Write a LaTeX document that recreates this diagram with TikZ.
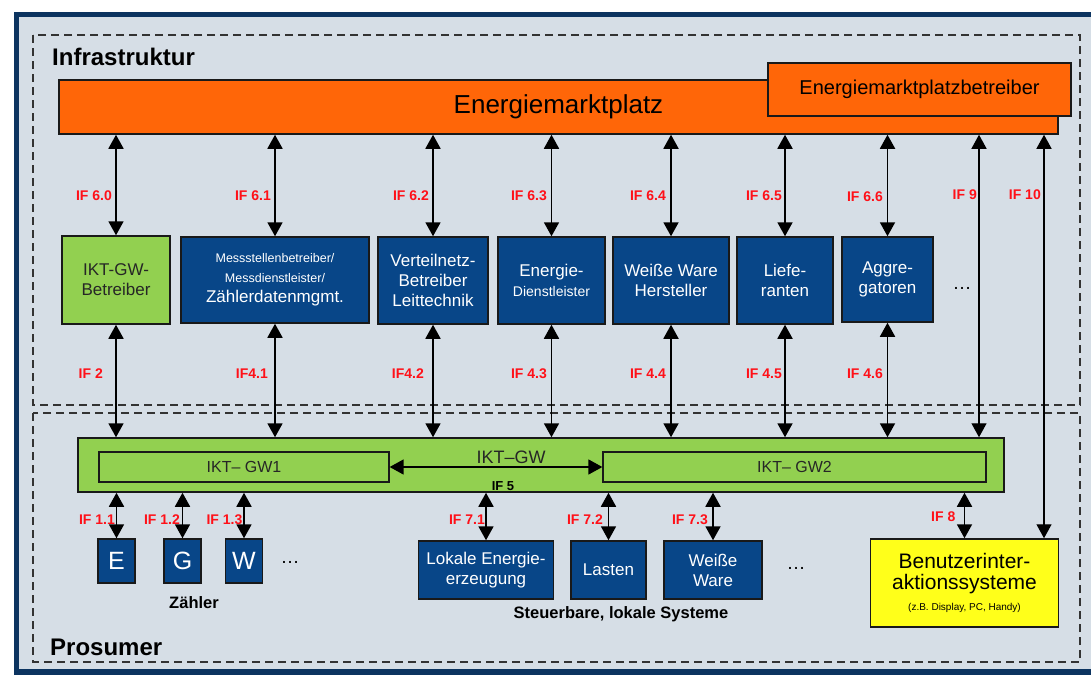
\documentclass[tikz,border=0pt]{standalone}
\usepackage{fontspec}
\setmainfont{Liberation Sans}
\usepackage{tikz}
\usetikzlibrary{arrows.meta}
\definecolor{rahmen}{RGB}{12,52,96}
\definecolor{grund}{RGB}{214,222,230}
\definecolor{marktorange}{RGB}{255,102,8}
\definecolor{gruen}{RGB}{146,208,80}
\definecolor{blau}{RGB}{8,70,136}
\definecolor{gelb}{RGB}{255,255,26}
\definecolor{ifrot}{RGB}{255,16,24}

\begin{document}
\begin{tikzpicture}[x=1pt,y=-1pt]
	 \tikzstyle{box}=[rectangle,draw=black!90,line width=1.5pt,inner sep=0pt,align=center]
	 \tikzstyle{dienst}=[box,fill=blau,text=white,font=\fontsize{17}{20}\selectfont]
	 \tikzstyle{gbox}=[box,fill=gruen,text=black!85]
	 \tikzstyle{zaehler}=[dienst,minimum width=37,minimum height=44,font=\fontsize{25}{28}\selectfont]
	 \tikzstyle{iflabel}=[anchor=east,inner sep=0pt,text=ifrot,font=\bfseries\fontsize{14}{16}\selectfont]
	 \tikzstyle{link}=[draw,line width=1.8pt,{Triangle[width=15pt,length=14pt]}-{Triangle[width=15pt,length=14pt]}]
	 \tikzstyle{longlink}=[link,line width=1.3pt]
	 \tikzstyle{area}=[draw=black!80,line width=1.8pt,dash pattern=on 8pt off 5pt]
	 \tikzstyle{titel}=[anchor=base west,inner sep=0pt,font=\bfseries\fontsize{24}{28}\selectfont]
	 \tikzstyle{dots}=[font=\fontsize{19}{20}\selectfont]
	 \useasboundingbox (0,0) rectangle (1091,675);
	 \clip (0,0) rectangle (1091,675);
	 \fill[white] (0,0) rectangle (1091,675);
	 \draw[rahmen,line width=5.5pt,fill=grund] (16.5,14.5) rectangle (1110,672);
	 \draw[area] (33,35) rectangle (1080,405);
	 \draw[area] (33,413) rectangle (1080,662);
	 \node[titel] (infra) at (52,65) {Infrastruktur};
	 \node[titel] (pros) at (50,655) {Prosumer};
	 \node[box,fill=marktorange,minimum width=999,minimum height=54,font=\fontsize{26}{30}\selectfont] (markt) at (558.5,107) {Energiemarktplatz};
	 \node[box,fill=marktorange,minimum width=303,minimum height=53,font=\fontsize{20}{24}\selectfont] (mpb) at (919.5,89.5) {Energiemarktplatzbetreiber};
	 \node[gbox,minimum width=108,minimum height=88,font=\fontsize{17}{20}\selectfont] (gwb) at (116,280) {IKT-GW-\\Betreiber};
	 \node[dienst,minimum width=188,minimum height=86] (msb) at (275,280) {{\fontsize{12.5}{15}\selectfont Messstellenbetreiber/}\\{\fontsize{12.5}{15}\selectfont Messdienstleister/}\\Zählerdatenmgmt.};
	 \node[dienst,minimum width=110,minimum height=87] (vnb) at (433,280.5) {Verteilnetz-\\Betreiber\\Leittechnik};
	 \node[dienst,minimum width=107,minimum height=87] (eds) at (551.5,280.5) {Energie-\\{\fontsize{14}{17}\selectfont Dienstleister}};
	 \node[dienst,minimum width=116,minimum height=87] (wwh) at (671,280.5) {Weiße Ware\\Hersteller};
	 \node[dienst,minimum width=96,minimum height=87] (lief) at (785,280.5) {Liefe-\\ranten};
	 \node[dienst,minimum width=91,minimum height=85] (aggr) at (887.5,279.5) {Aggre-\\gatoren};
	 \node[dots] (mehr1) at (962,288) {…};
	 \node[gbox,minimum width=926,minimum height=54] (gw) at (541,465) {};
	 \node[gbox,line width=1.3pt,minimum width=290,minimum height=30,font=\fontsize{16}{19}\selectfont] (gw1) at (244,467) {IKT– GW1};
	 \node[gbox,line width=1.3pt,minimum width=383,minimum height=30,font=\fontsize{16}{19}\selectfont] (gw2) at (794.5,467) {IKT– GW2};
	 \node[text=black!85,font=\fontsize{18}{20}\selectfont] (gwtext) at (511,457) {IKT–GW};
	 \node[font=\bfseries\fontsize{13}{15}\selectfont] (if5) at (503,486) {IF 5};
	 \node[zaehler] (e) at (116.5,561) {E};
	 \node[zaehler] (g) at (182.5,561) {G};
	 \node[zaehler] (w) at (244,561) {W};
	 \node[dots] (mehr2) at (290,562) {…};
	 \node[font=\bfseries\fontsize{16.5}{20}\selectfont] (zlab) at (194,603) {Zähler};
	 \node[dienst,minimum width=135,minimum height=58] (lok) at (486,570) {Lokale Energie-\\erzeugung};
	 \node[dienst,minimum width=75,minimum height=58] (last) at (608.5,570) {Lasten};
	 \node[dienst,minimum width=98,minimum height=58] (ww) at (713,570) {Weiße\\Ware};
	 \node[dots] (mehr3) at (796,568) {…};
	 \node[font=\bfseries\fontsize{16.5}{20}\selectfont] (steuer) at (621,614) {Steuerbare, lokale Systeme};
	 \node[box,fill=gelb,minimum width=188,minimum height=88,font=\fontsize{21}{21}\selectfont] (benu) at (964.5,583) {Benutzerinter-\\aktionssysteme\\{\fontsize{10}{12}\selectfont (z.B. Display, PC, Handy)}};
	 \coordinate (if9) at (979,300);
	 \coordinate (if10) at (1044,300);
	 \draw[link] (gwb.north) -- (gwb.north |- markt.south);
	 \draw[link] (msb.north) -- (msb.north |- markt.south);
	 \draw[link] (vnb.north) -- (vnb.north |- markt.south);
	 \draw[link] (eds.north) -- (eds.north |- markt.south);
	 \draw[link] (wwh.north) -- (wwh.north |- markt.south);
	 \draw[link] (lief.north) -- (lief.north |- markt.south);
	 \draw[link] (aggr.north) -- (aggr.north |- markt.south);
	 \draw[link] (gwb.south) -- (gwb.south |- gw.north);
	 \draw[link] (msb.south) -- (msb.south |- gw.north);
	 \draw[link] (vnb.south) -- (vnb.south |- gw.north);
	 \draw[link] (eds.south) -- (eds.south |- gw.north);
	 \draw[link] (wwh.south) -- (wwh.south |- gw.north);
	 \draw[link] (lief.south) -- (lief.south |- gw.north);
	 \draw[link] (aggr.south) -- (aggr.south |- gw.north);
	 \draw[longlink] (if9 |- markt.south) -- (if9 |- gw.north);
	 \draw[longlink] (if10 |- markt.south) -- (if10 |- benu.north);
	 \draw[link,line width=1.5pt] (gw1.east) -- (gw2.west);
	 \draw[link] (e.north) -- (e.north |- gw.south);
	 \draw[link] (g.north) -- (g.north |- gw.south);
	 \draw[link] (w.north) -- (w.north |- gw.south);
	 \draw[link] (lok.north) -- (lok.north |- gw.south);
	 \draw[link] (last.north) -- (last.north |- gw.south);
	 \draw[link] (ww.north) -- (ww.north |- gw.south);
	 \draw[link] (benu.north) -- (benu.north |- gw.south);
	 \node[iflabel] (l60) at (112,196) {IF 6.0};
	 \node[iflabel] (l61) at (271,196) {IF 6.1};
	 \node[iflabel] (l62) at (429,196) {IF 6.2};
	 \node[iflabel] (l63) at (547,196) {IF 6.3};
	 \node[iflabel] (l64) at (666,196) {IF 6.4};
	 \node[iflabel] (l65) at (782,196) {IF 6.5};
	 \node[iflabel] (l66) at (883,197) {IF 6.6};
	 \node[iflabel] (l9) at (977,195) {IF 9};
	 \node[iflabel] (l10) at (1041,195) {IF 10};
	 \node[iflabel] (l2) at (103,374) {IF 2};
	 \node[iflabel] (l41) at (268,374) {IF4.1};
	 \node[iflabel] (l42) at (424,374) {IF4.2};
	 \node[iflabel] (l43) at (547,374) {IF 4.3};
	 \node[iflabel] (l44) at (666,374) {IF 4.4};
	 \node[iflabel] (l45) at (782,374) {IF 4.5};
	 \node[iflabel] (l46) at (883,374) {IF 4.6};
	 \node[iflabel] (l11) at (115,520) {IF 1.1};
	 \node[iflabel] (l12) at (180,520) {IF 1.2};
	 \node[iflabel] (l13) at (242.5,520) {IF 1.3};
	 \node[iflabel] (l71) at (485,520) {IF 7.1};
	 \node[iflabel] (l72) at (603,520) {IF 7.2};
	 \node[iflabel] (l73) at (708,520) {IF 7.3};
	 \node[iflabel] (l8) at (955.5,517) {IF 8};
 \end{tikzpicture}
\end{document}
